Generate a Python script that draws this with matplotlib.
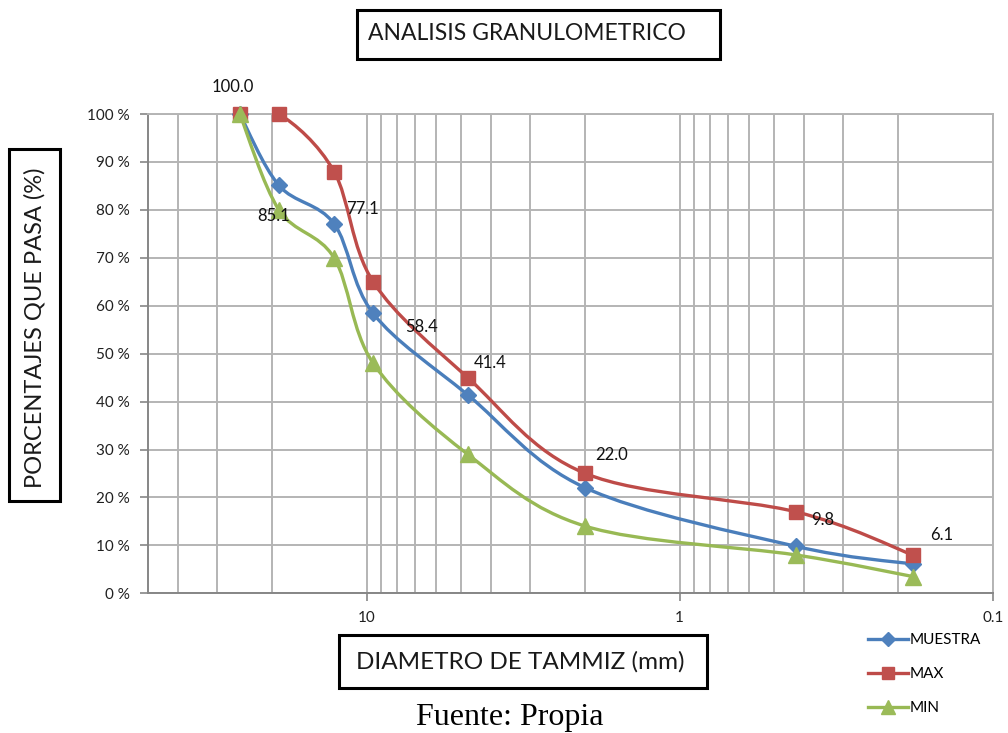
import matplotlib
matplotlib.use("Agg")
import matplotlib.pyplot as plt
import numpy as np
from matplotlib.path import Path
from matplotlib.patches import PathPatch, Rectangle
from matplotlib.lines import Line2D
from matplotlib.ticker import FixedLocator, NullFormatter

plt.rcParams['font.family'] = ['Lato', 'DejaVu Sans']

# ---- data ----
diametros = [25.4, 19.05, 12.7, 9.525, 4.75, 2.0, 0.425, 0.18]
muestra = [100.0, 85.1, 77.1, 58.4, 41.4, 22.0, 9.8, 6.1]
maximo = [100, 100, 88, 65, 45, 25, 17, 8]
minimo = [100, 80, 70, 48, 29, 14, 8, 3.5]
series_names = ["MUESTRA", "MAX", "MIN"]
y_tick_values = [0, 10, 20, 30, 40, 50, 60, 70, 80, 90, 100]
x_major_ticks = [10, 1, 0.1]
x_major_labels = ["10", "1", "0.1"]
x_minor_ticks = [20, 30, 40, 9, 8, 7, 6, 5, 4, 3, 2, 0.9, 0.8, 0.7, 0.6, 0.5, 0.4, 0.3, 0.2]
# label offsets (pixels) for MUESTRA data labels
label_offsets = [(-7, 27), (-5, -31), (28, 15), (48, -14), (22, 32), (26, 33), (27, 26), (29, 29)]

W, H = 1008, 733
fig = plt.figure(figsize=(W / 100, H / 100), dpi=100)
fig.patch.set_facecolor('white')

L, R, T, B = 147.7, 992.7, 114.0, 593.3
ax = fig.add_axes([L / W, 1 - B / H, (R - L) / W, (B - T) / H])
ax.set_xscale('log')
ax.set_xlim(50, 0.1)
ax.set_ylim(0, 100)

grid_c = '#b4b4b4'
axis_c = '#868686'
ax.xaxis.set_major_locator(FixedLocator(x_major_ticks))
ax.set_xticklabels(x_major_labels)
ax.xaxis.set_minor_locator(FixedLocator(x_minor_ticks))
ax.xaxis.set_minor_formatter(NullFormatter())
ax.set_yticks(y_tick_values)
ax.set_yticklabels([f"{v} %" for v in y_tick_values])
ax.grid(True, which='both', axis='x', color=grid_c, lw=1.4)
ax.grid(True, which='major', axis='y', color=grid_c, lw=1.4)
ax.set_axisbelow(True)
ax.tick_params(axis='both', which='major', direction='out', length=6, width=1.2,
               color=axis_c, labelsize=11, pad=7, labelcolor='#202020')
ax.tick_params(axis='x', which='minor', length=0)
for side in ['top', 'right']:
    ax.spines[side].set_color(grid_c)
    ax.spines[side].set_linewidth(1.4)
for side in ['left', 'bottom']:
    ax.spines[side].set_color(axis_c)
    ax.spines[side].set_linewidth(1.4)


def smooth_path(xs, ys):
    u = np.log10(np.asarray(xs, float))
    v = np.asarray(ys, float)
    P = np.column_stack([u, v])
    n = len(P)
    verts = [P[0]]
    codes = [Path.MOVETO]
    for i in range(n - 1):
        p0 = P[i - 1] if i > 0 else P[i]
        p1 = P[i]
        p2 = P[i + 1]
        p3 = P[i + 2] if i + 2 < n else P[i + 1]
        c1 = p1 + (p2 - p0) / 6.0
        c2 = p2 - (p3 - p1) / 6.0
        verts += [c1, c2, p2]
        codes += [Path.CURVE4] * 3
    verts = np.array(verts)
    verts[:, 0] = 10 ** verts[:, 0]
    return Path(verts, codes)


styles = [
    dict(color='#4A7EBB', mfc='#4F81BD', marker='D', ms=8),
    dict(color='#BE4B48', mfc='#C0504D', marker='s', ms=10.5),
    dict(color='#98B954', mfc='#9BBB59', marker='^', ms=11.5),
]
all_series = [muestra, maximo, minimo]
handles = []
for k, (vals, st) in enumerate(zip(all_series, styles)):
    patch = PathPatch(smooth_path(diametros, vals), facecolor='none',
                      edgecolor=st['color'], lw=2.4, zorder=3 + k * 0.1)
    ax.add_patch(patch)
    ax.plot(diametros, vals, linestyle='none', marker=st['marker'], ms=st['ms'],
            mfc=st['mfc'], mec=st['mfc'], zorder=4 + k * 0.1, clip_on=False)
    handles.append(Line2D([0], [0], color=st['color'], lw=2.4, marker=st['marker'],
                          ms=st['ms'] * 0.85, mfc=st['mfc'], mec=st['mfc']))

for xv, yv, (dx, dy) in zip(diametros, muestra, label_offsets):
    ax.annotate(f"{yv:.1f}", (xv, yv), xytext=(dx, dy), textcoords='offset pixels',
                ha='center', va='center', fontsize=12, color='#111111', zorder=6)

fig.legend(handles, series_names, loc='center left', bbox_to_anchor=(868 / W, 1 - 674 / H),
           frameon=False, fontsize=11, handlelength=2.6, handletextpad=0.1,
           labelspacing=1.3, borderpad=0, borderaxespad=0)


def boxed(x0, y0, x1, y1):
    fig.patches.append(Rectangle((x0 / W, 1 - y1 / H), (x1 - x0) / W, (y1 - y0) / H,
                                 transform=fig.transFigure, fill=False, lw=2.2,
                                 edgecolor='black', figure=fig))


boxed(357, 10, 720, 59)
fig.text(368 / W, 1 - 34 / H, "ANALISIS GRANULOMETRICO", ha='left', va='center',
         fontsize=16.5, color='#1a1a1a')

boxed(9, 149, 60, 501)
fig.text(35 / W, 1 - 328 / H, "PORCENTAJES QUE PASA (%)", rotation=90, ha='center',
         va='center', fontsize=17, color='#1a1a1a')

boxed(339, 635, 707, 688)
fig.text(520 / W, 1 - 662 / H, "DIAMETRO DE TAMMIZ (mm)", ha='center', va='center',
         fontsize=17.5, color='#1a1a1a')

fig.text(510 / W, 1 - 717 / H, "Fuente: Propia", ha='center', va='center',
         fontsize=23, family=['Liberation Serif', 'DejaVu Serif'], color='black')

fig.savefig('out.png', dpi=100)
